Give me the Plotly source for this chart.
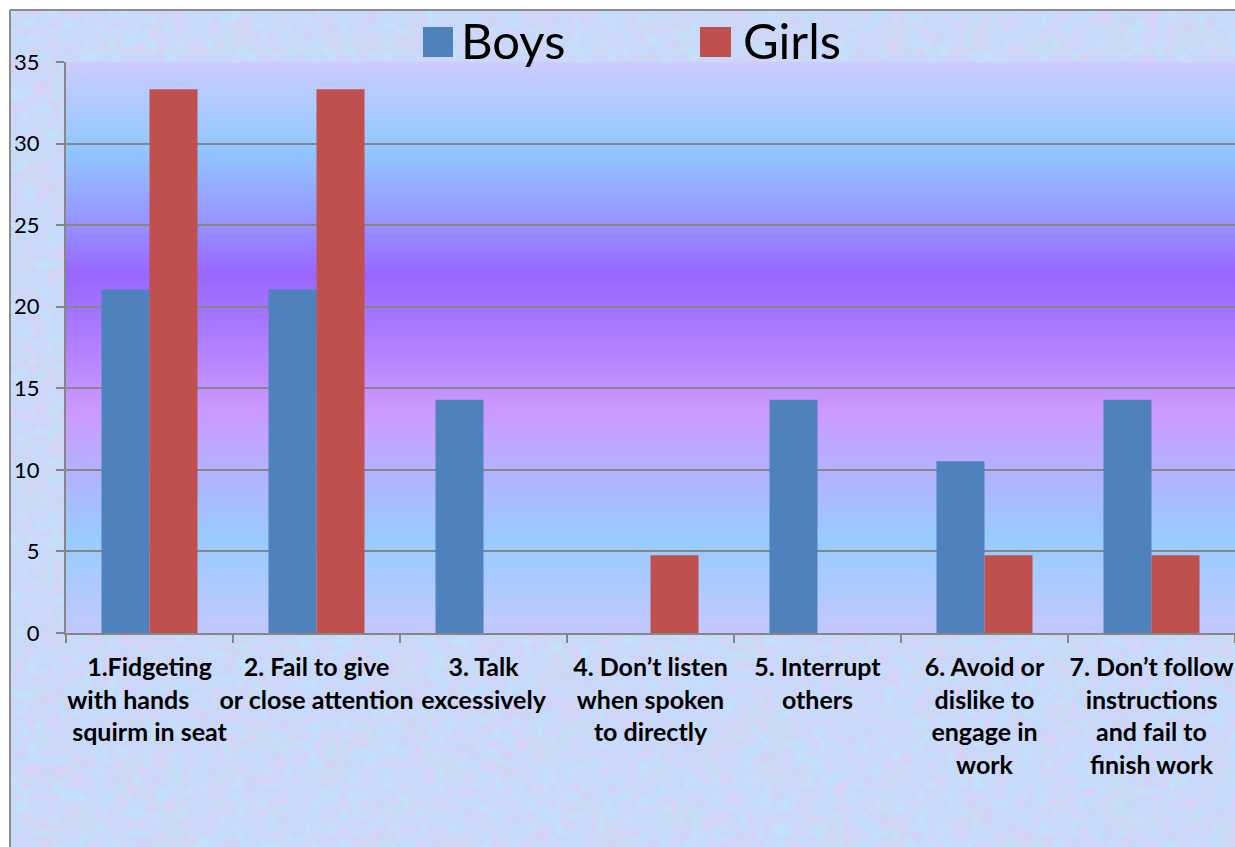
import zlib, struct, base64
import plotly.graph_objects as go

NB = "\u00a0"
categories = [
    "1.Fidgeting<br>with hands" + NB * 7 + "<br>squirm in seat",
    "2. Fail to give<br>or close attention",
    "3. Talk<br>excessively",
    "4. Don’t listen<br>when spoken<br>to directly",
    "5. Interrupt<br>others",
    "6. Avoid or<br>dislike to<br>engage in<br>work",
    "7. Don’t follow<br>instructions<br>and fail to<br>finish work",
]
boys = [21.05, 21.05, 14.29, 0, 14.29, 10.53, 14.29]
girls = [33.33, 33.33, 0, 4.76, 0, 4.76, 4.76]
y_ticks = [0, 5, 10, 15, 20, 25, 30, 35]

BLUE = "#4F81BD"
RED = "#C0504D"

# ---- small PNG helper for decorative backgrounds ----
def png_uri(rows):
    h = len(rows); w = len(rows[0])
    raw = b"".join(b"\x00" + bytes(c for px in row for c in px) for row in rows)
    def chunk(t, d):
        return struct.pack(">I", len(d)) + t + d + struct.pack(">I", zlib.crc32(t + d) & 0xffffffff)
    png = (b"\x89PNG\r\n\x1a\n"
           + chunk(b"IHDR", struct.pack(">IIBBBBB", w, h, 8, 2, 0, 0, 0))
           + chunk(b"IDAT", zlib.compress(raw))
           + chunk(b"IEND", b""))
    return "data:image/png;base64," + base64.b64encode(png).decode()

stops = [
    (0.00, (204, 204, 255)),
    (0.15, (146, 200, 255)),
    (0.27, (150, 152, 255)),
    (0.37, (153, 102, 255)),
    (0.45, (165, 118, 255)),
    (0.61, (204, 153, 255)),
    (0.84, (152, 204, 255)),
    (1.00, (195, 200, 255)),
]
def interp(t):
    for (t0, c0), (t1, c1) in zip(stops[:-1], stops[1:]):
        if t0 <= t <= t1:
            f = (t - t0) / (t1 - t0) if t1 > t0 else 0
            return tuple(int(round(a + (b - a) * f)) for a, b in zip(c0, c1))
    return stops[-1][1]

H = 571
grad_uri = png_uri([[interp(i / (H - 1))] * 2 for i in range(H)])

# mottled pastel texture (decorative only)
def hsh(i, j):
    n = (i * 374761393 + j * 668265263) & 0xffffffff
    n = ((n ^ (n >> 13)) * 1274126177) & 0xffffffff
    return ((n ^ (n >> 16)) & 0xffff) / 65535.0
TW, TH = 200, 140
tex = []
for j in range(TH):
    row = []
    for i in range(TW):
        a = hsh(i, j); b = hsh(i + 911, j + 37)
        r = int(200 + 24 * a * (1 - b) - 6 * b)
        g = int(216 + 14 * b - 10 * a)
        bl = int(245 + 8 * b)
        row.append((min(r, 255), min(g, 255), min(bl, 255)))
    tex.append(row)
tex_uri = png_uri(tex)

fig = go.Figure()
fig.add_trace(go.Bar(x=categories, y=boys, name="Boys", marker_color=BLUE,
                     marker_line=dict(width=0), showlegend=False))
fig.add_trace(go.Bar(x=categories, y=girls, name="Girls", marker_color=RED,
                     marker_line=dict(width=0), showlegend=False))

L, T, PW, PH = 66, 62, 1169, 571
def px_x(p): return (p - L) / PW
def px_y(p): return (T + PH - p) / PH

FRAME = "#8C8C8C"
shapes = [
    dict(type="rect", xref="paper", yref="paper", layer="below",
         x0=px_x(-5), x1=px_x(1240), y0=px_y(10), y1=px_y(-5),
         fillcolor="white", line=dict(width=0)),
    dict(type="rect", xref="paper", yref="paper", layer="below",
         x0=px_x(-5), x1=px_x(10), y0=px_y(850), y1=px_y(-5),
         fillcolor="white", line=dict(width=0)),
    dict(type="line", xref="paper", yref="paper",
         x0=px_x(10), x1=px_x(1236), y0=px_y(10), y1=px_y(10),
         line=dict(color=FRAME, width=2)),
    dict(type="line", xref="paper", yref="paper",
         x0=px_x(10), x1=px_x(10), y0=px_y(10), y1=px_y(848),
         line=dict(color=FRAME, width=2)),
    dict(type="rect", xref="paper", yref="paper",
         x0=px_x(423), x1=px_x(453), y0=px_y(57), y1=px_y(27),
         fillcolor=BLUE, line=dict(width=0)),
    dict(type="rect", xref="paper", yref="paper",
         x0=px_x(700), x1=px_x(731), y0=px_y(57), y1=px_y(27),
         fillcolor=RED, line=dict(width=0)),
]
annotations = [
    dict(text="Boys", xref="paper", yref="paper", x=px_x(459), y=px_y(40),
         xanchor="left", yanchor="middle", showarrow=False,
         font=dict(size=49, color="black", family="Lato, Carlito, sans-serif")),
    dict(text="Girls", xref="paper", yref="paper", x=px_x(741), y=px_y(40),
         xanchor="left", yanchor="middle", showarrow=False,
         font=dict(size=49, color="black", family="Lato, Carlito, sans-serif")),
]

fig.update_layout(
    width=1235, height=847,
    margin=dict(l=L, r=0, t=T, b=847 - T - PH),
    paper_bgcolor="#D4DDF6",
    plot_bgcolor="rgba(0,0,0,0)",
    barmode="group", bargap=0.425, bargroupgap=0,
    shapes=shapes, annotations=annotations,
    images=[
        dict(source=tex_uri, xref="paper", yref="paper", x=px_x(10), y=px_y(10),
             sizex=px_x(1236) - px_x(10), sizey=px_y(10) - px_y(848),
             xanchor="left", yanchor="top", sizing="stretch", layer="below"),
        dict(source=grad_uri, xref="x domain", yref="y domain", x=0, y=1,
             sizex=1, sizey=1, xanchor="left", yanchor="top",
             sizing="stretch", layer="below"),
    ],
    font=dict(family="Lato, Carlito, sans-serif", color="black"),
    showlegend=False,
)

fig.update_yaxes(range=[0, 35], tickvals=y_ticks, showgrid=True, gridcolor="#868686",
                 gridwidth=2, showline=True, linecolor="#868686", linewidth=2,
                 ticks="outside", ticklen=8, tickcolor="#868686", tickwidth=2,
                 tickfont=dict(size=22, color="black"), ticklabelstandoff=12, zeroline=False)
fig.update_xaxes(showline=True, linecolor="#868686", linewidth=2, ticks="outside",
                 tickson="boundaries", ticklen=8, tickcolor="#868686", tickwidth=2,
                 tickfont=dict(size=25, color="black", weight="bold"),
                 ticklabelstandoff=11, tickangle=0)

fig.write_html("out.html")
